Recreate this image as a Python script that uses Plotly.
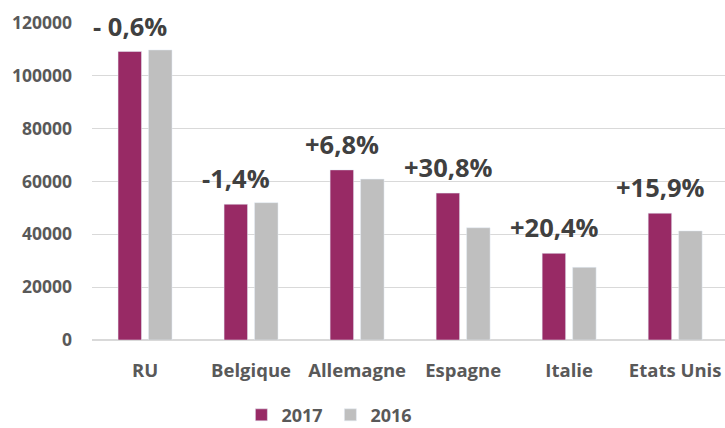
import plotly.graph_objects as go

categories = ["RU", "Belgique", "Allemagne", "Espagne", "Italie", "Etats Unis"]
values_2017 = [109200, 51400, 64400, 55600, 32800, 48000]
values_2016 = [109800, 52000, 60900, 42500, 27500, 41300]
changes = ["- 0,6%", "-1,4%", "+6,8%", "+30,8%", "+20,4%", "+15,9%"]
y_ticks = [0, 20000, 40000, 60000, 80000, 100000, 120000]

PURPLE = "#982A65"
GRAY = "#BFBFBF"
TXT = "#595959"
FONT = "Open Sans"

fig = go.Figure()
fig.add_trace(go.Bar(name="2017", x=categories, y=values_2017, marker_color=PURPLE))
fig.add_trace(go.Bar(name="2016", x=categories, y=values_2016, marker_color=GRAY))

for c, v, t in zip(categories, values_2017, changes):
    fig.add_annotation(x=c, y=v, text=t, showarrow=False, xshift=-15, yshift=26,
                       yanchor="middle", xanchor="center",
                       font=dict(family=FONT, size=25.5, color="#404040", weight="bold"))

fig.update_layout(
    width=725, height=428,
    margin=dict(l=92, r=0, t=23, b=88, autoexpand=False),
    paper_bgcolor="white", plot_bgcolor="white",
    barmode="group", bargap=0.425, bargroupgap=0.23,
    font=dict(family=FONT, color=TXT),
    showlegend=True,
    legend=dict(orientation="h", x=0.236, xanchor="left", y=-0.237, yanchor="middle",
                font=dict(family=FONT, size=18, color=TXT, weight="bold"),
                itemwidth=30, entrywidth=44, traceorder="normal"),
    xaxis=dict(range=[-0.5, 5.47], showgrid=False, showline=False, ticks="",
               automargin=False, ticklabelstandoff=17,
               tickfont=dict(family=FONT, size=18.5, color=TXT, weight="bold")),
    yaxis=dict(range=[0, 120000], tickvals=y_ticks, ticktext=[str(v) for v in y_ticks],
               showgrid=True, gridcolor="#D9D9D9", gridwidth=1, zeroline=True,
               zerolinecolor="#D9D9D9", showline=False, ticks="", ticklabelstandoff=19,
               automargin=False,
               tickfont=dict(family=FONT, size=17.5, color=TXT, weight="bold")),
)

fig.write_html("out.html", config={"displayModeBar": False},
               post_script="document.body.style.margin='0';")
